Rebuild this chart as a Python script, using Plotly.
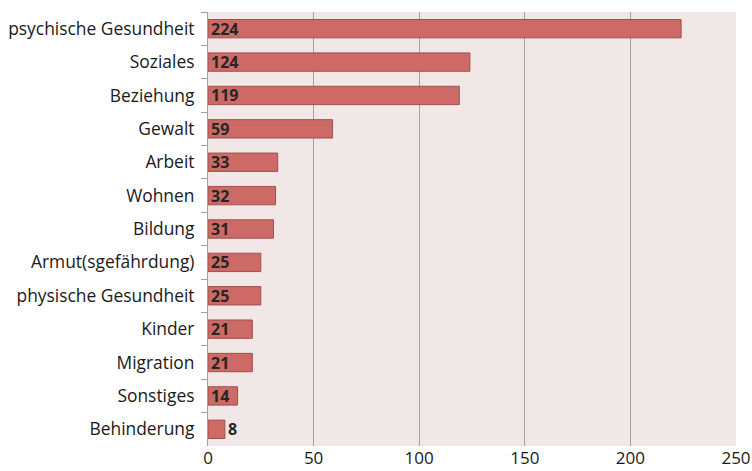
import plotly.graph_objects as go

categories = ["psychische Gesundheit", "Soziales", "Beziehung", "Gewalt", "Arbeit", "Wohnen",
              "Bildung", "Armut(sgefährdung)", "physische Gesundheit", "Kinder", "Migration",
              "Sonstiges", "Behinderung"]
values = [224, 124, 119, 59, 33, 32, 31, 25, 25, 21, 21, 14, 8]
x_ticks = [0, 50, 100, 150, 200, 250]

positions = ["inside" if v >= 10 else "outside" for v in values]

fig = go.Figure(go.Bar(
    y=categories, x=values, orientation="h",
    marker=dict(color="#cd6a66", line=dict(color="#a0504d", width=1)),
    width=0.55,
    text=[str(v) for v in values],
    textposition=positions, insidetextanchor="start", constraintext="none",
    textangle=0,
    textfont=dict(family="Open Sans", size=16, color="#262626", weight="bold"),
    cliponaxis=False,
))

fig.update_layout(
    width=752, height=471,
    margin=dict(l=208, r=16, t=12, b=25),
    paper_bgcolor="white", plot_bgcolor="#f2e7e7",
    font=dict(family="Open Sans", size=15, color="#1a1a1a"),
    showlegend=False,
    xaxis=dict(range=[0, 250], tickvals=x_ticks, showgrid=True, gridcolor="#a3a3a3",
               gridwidth=1, zeroline=False, showline=False, ticks="", tickfont=dict(size=17),
               automargin=False),
    yaxis=dict(autorange="reversed", showline=True, linecolor="#a3a3a3", linewidth=1,
               ticks="outside", tickson="boundaries", ticklen=6, tickcolor="#a3a3a3",
               showgrid=False, ticksuffix="  ", tickfont=dict(size=17.4), automargin=False),
)

fig.write_html("out.html", config={"displayModeBar": False},
               post_script="document.body.style.margin='0';")
